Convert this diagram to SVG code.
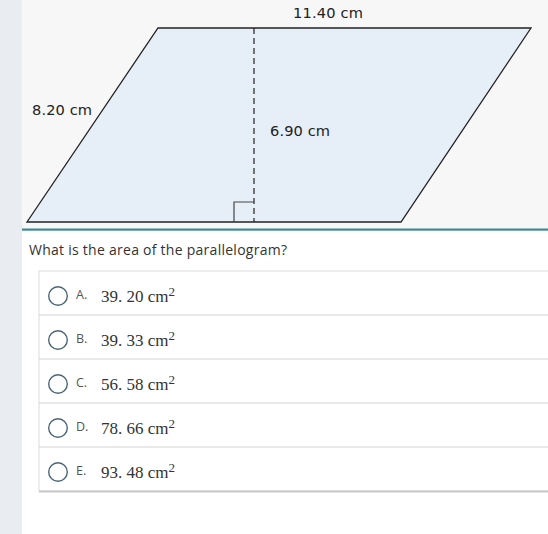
<svg xmlns="http://www.w3.org/2000/svg" width="548" height="534" viewBox="0 0 548 534">
<style>
.dim{font-family:"DejaVu Sans",sans-serif;font-size:14.6px;fill:#222}
.q{font-family:"Open Sans",sans-serif;font-size:14px;fill:#333}
.let{font-family:"Open Sans",sans-serif;font-size:12.5px;fill:#555}
.val{font-family:"Liberation Serif",serif;font-size:17px;fill:#333}
.sup{font-family:"Liberation Serif",serif;font-size:13px;fill:#333}
.radio{fill:#fff;stroke:#4d6577;stroke-width:1.4}
.sep{stroke:#d4d4d4;stroke-width:1.2}
</style>
<rect x="0" y="0" width="548" height="534" fill="#ffffff"/>
<rect x="0" y="0" width="22" height="534" fill="#e9edf1"/>
<rect x="22" y="0" width="526" height="229" fill="#f7f7f7"/>
<rect x="22" y="228.5" width="526" height="2.2" fill="#3e8a8c"/>
<g id="parallelogram">
<polygon points="158,28 531,28 401,222 27,222" fill="#e6eef8" stroke="#222" stroke-width="1.3"/>
<line x1="254" y1="28" x2="254" y2="222" stroke="#222" stroke-width="1.2" stroke-dasharray="6,4"/>
<polyline points="234,222 234,202 254,202" fill="none" stroke="#444" stroke-width="1.2"/>
</g>
<g id="labels">
<text class="dim" x="293" y="18" textLength="70">11.40 cm</text>
<text class="dim" x="32" y="115" textLength="60">8.20 cm</text>
<text class="dim" x="270" y="136" textLength="60">6.90 cm</text>
</g>
<text class="q" x="29" y="255" textLength="258">What is the area of the parallelogram?</text>
<g id="card">
<rect x="39" y="271" width="520" height="220" fill="#fff" stroke="#dcdcdc" stroke-width="1"/>
<line x1="39" y1="491.5" x2="548" y2="491.5" stroke="#c8c8c8" stroke-width="2"/>
<line class="sep" x1="39" y1="315" x2="548" y2="315"/>
<line class="sep" x1="39" y1="359" x2="548" y2="359"/>
<line class="sep" x1="39" y1="403" x2="548" y2="403"/>
<line class="sep" x1="39" y1="447" x2="548" y2="447"/>
</g>
<g id="optA">
<circle class="radio" cx="58" cy="296" r="9.3"/>
<text class="let" x="76" y="299">A.</text>
<text class="val" x="101" y="302">39. 20 cm<tspan class="sup" dy="-6">2</tspan></text>
</g>
<g id="optB">
<circle class="radio" cx="58" cy="340" r="9.3"/>
<text class="let" x="76" y="343">B.</text>
<text class="val" x="101" y="346">39. 33 cm<tspan class="sup" dy="-6">2</tspan></text>
</g>
<g id="optC">
<circle class="radio" cx="58" cy="384" r="9.3"/>
<text class="let" x="76" y="387">C.</text>
<text class="val" x="101" y="390">56. 58 cm<tspan class="sup" dy="-6">2</tspan></text>
</g>
<g id="optD">
<circle class="radio" cx="58" cy="428" r="9.3"/>
<text class="let" x="76" y="431">D.</text>
<text class="val" x="101" y="434">78. 66 cm<tspan class="sup" dy="-6">2</tspan></text>
</g>
<g id="optE">
<circle class="radio" cx="58" cy="472" r="9.3"/>
<text class="let" x="76" y="475">E.</text>
<text class="val" x="101" y="478">93. 48 cm<tspan class="sup" dy="-6">2</tspan></text>
</g>
</svg>
